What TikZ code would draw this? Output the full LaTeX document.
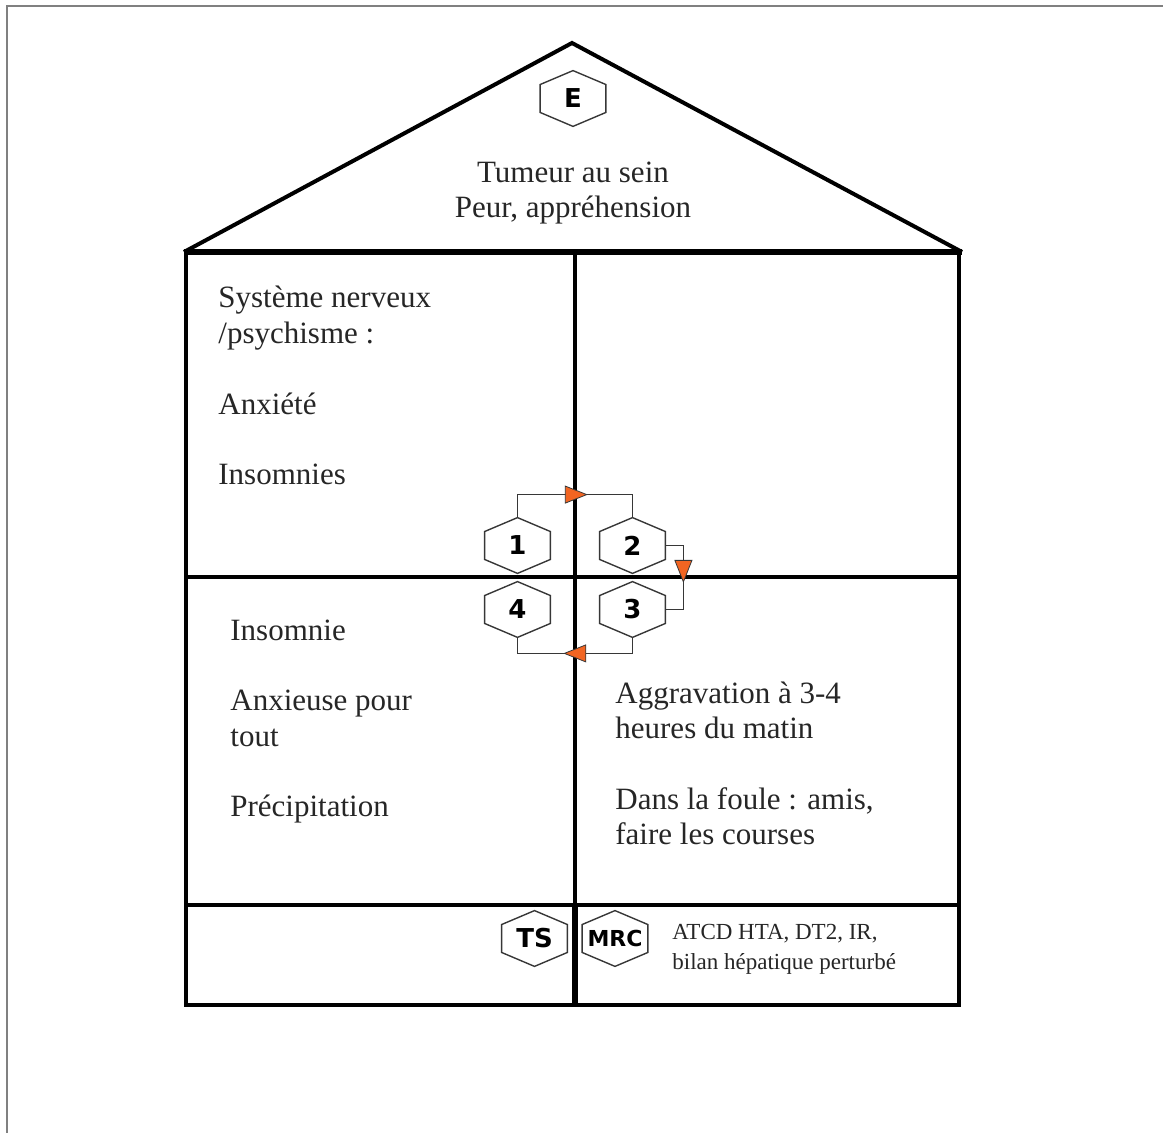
\documentclass[tikz,border=0pt]{standalone}
\usepackage{fontspec}
\setmainfont{Liberation Serif}
\newfontfamily\hexfont{DejaVu Sans}
\usetikzlibrary{arrows.meta, calc, decorations.markings}

\definecolor{arroworange}{RGB}{242,101,34}
\definecolor{linkgray}{RGB}{55,55,55}

\tikzset{
  wall/.style={line width=2pt, black, line join=miter},
  hexbox/.style={minimum width=32.5pt, minimum height=27.5pt, inner sep=0pt,
    font=\hexfont\bfseries\fontsize{13}{13}\selectfont},
  hexline/.style={draw=linkgray, line width=0.7pt, line join=miter},
  link/.style={draw=linkgray, line width=0.7pt, postaction={decorate},
    decoration={markings, mark=at position #1 with
      {\arrow{Triangle[length=11.5pt, width=9pt, fill=arroworange, line width=0.4pt]}}}},
  roomtext/.style={anchor=base west, align=left, inner sep=0pt,
    font=\fontsize{15.5}{17.7}\selectfont, text=black!85}
}

% hexagon badge: [options] name, position, label
\newcommand{\hexnode}[4][]{%
  \node[hexbox,#1] (#2) at (#3) {#4};
  \draw[hexline] (#2.north) -- ($(#2.north east)!0.25!(#2.south east)$)
    -- ($(#2.north east)!0.75!(#2.south east)$) -- (#2.south)
    -- ($(#2.north west)!0.75!(#2.south west)$)
    -- ($(#2.north west)!0.25!(#2.south west)$) -- cycle;}

\begin{document}
\begin{tikzpicture}[x=0.5pt, y=-0.5pt]
  \useasboundingbox (0,0) rectangle (1163,1133);

  % Page frame (top and left edges)
  \draw[gray, line width=0.6pt] (7,1133) -- (7,6) -- (1163,6);

  % Roof
  \draw[line width=2pt, line join=miter] (184,252) -- (572,43) -- (962,252);
  \draw[line width=3pt] (184,252) -- (962,252);

  % Walls, floors and the middle wall
  \draw[wall] (186,252) -- (186,1005) -- (959,1005) -- (959,252);
  \draw[line width=1.7pt] (186,577) -- (959,577);
  \draw[wall] (186,905) -- (959,905);
  \draw[line width=1.7pt] (575,252) -- (575,905);
  \draw[line width=3pt] (575,905) -- (575,1005);

  % Hexagons
  \hexnode{hexE}{573,98.5}{E}
  \hexnode{hex1}{517.5,545.5}{1}
  \hexnode{hex2}{632.5,545.5}{2}
  \hexnode{hex3}{632.5,609.5}{3}
  \hexnode{hex4}{517.5,609.5}{4}
  \hexnode{hexTS}{534.5,938.5}{TS}
  \hexnode[font=\hexfont\bfseries\fontsize{11}{11}\selectfont]{hexMRC}{615,938.5}{MRC}

  % Cycle 1 -> 2 -> 3 -> 4
  \draw[link=0.58] (hex1.north) -- ++(0,-23) -| (hex2.north);
  \draw[link=0.555] (hex2.east) -- ++(18,0) |- (hex3.east);
  \draw[link=0.58] (hex3.south) -- ++(0,16) -| (hex4.south);

  % Texts (anchored at the baseline of their last line)
  \node[roomtext, anchor=base, align=center] (roof) at (573,218)
    {Tumeur au sein\\Peur, appréhension};
  \node[roomtext] (nerve) at (218,485)
    {Système nerveux\\/psychisme :\\[17.7pt]Anxiété\\[17.7pt]Insomnies};
  \node[roomtext] (sleep) at (230,817)
    {Insomnie\\[17.7pt]Anxieuse pour\\tout\\[17.7pt]Précipitation};
  \node[roomtext] (worse) at (615,845)
    {Aggravation à 3-4\\heures du matin\\[17.7pt]Dans la foule : amis,\\faire les courses};
  \node[roomtext, font=\fontsize{11.5}{15}\selectfont] (history) at (672,969)
    {ATCD HTA, DT2, IR,\\bilan hépatique perturbé};
\end{tikzpicture}
\end{document}
